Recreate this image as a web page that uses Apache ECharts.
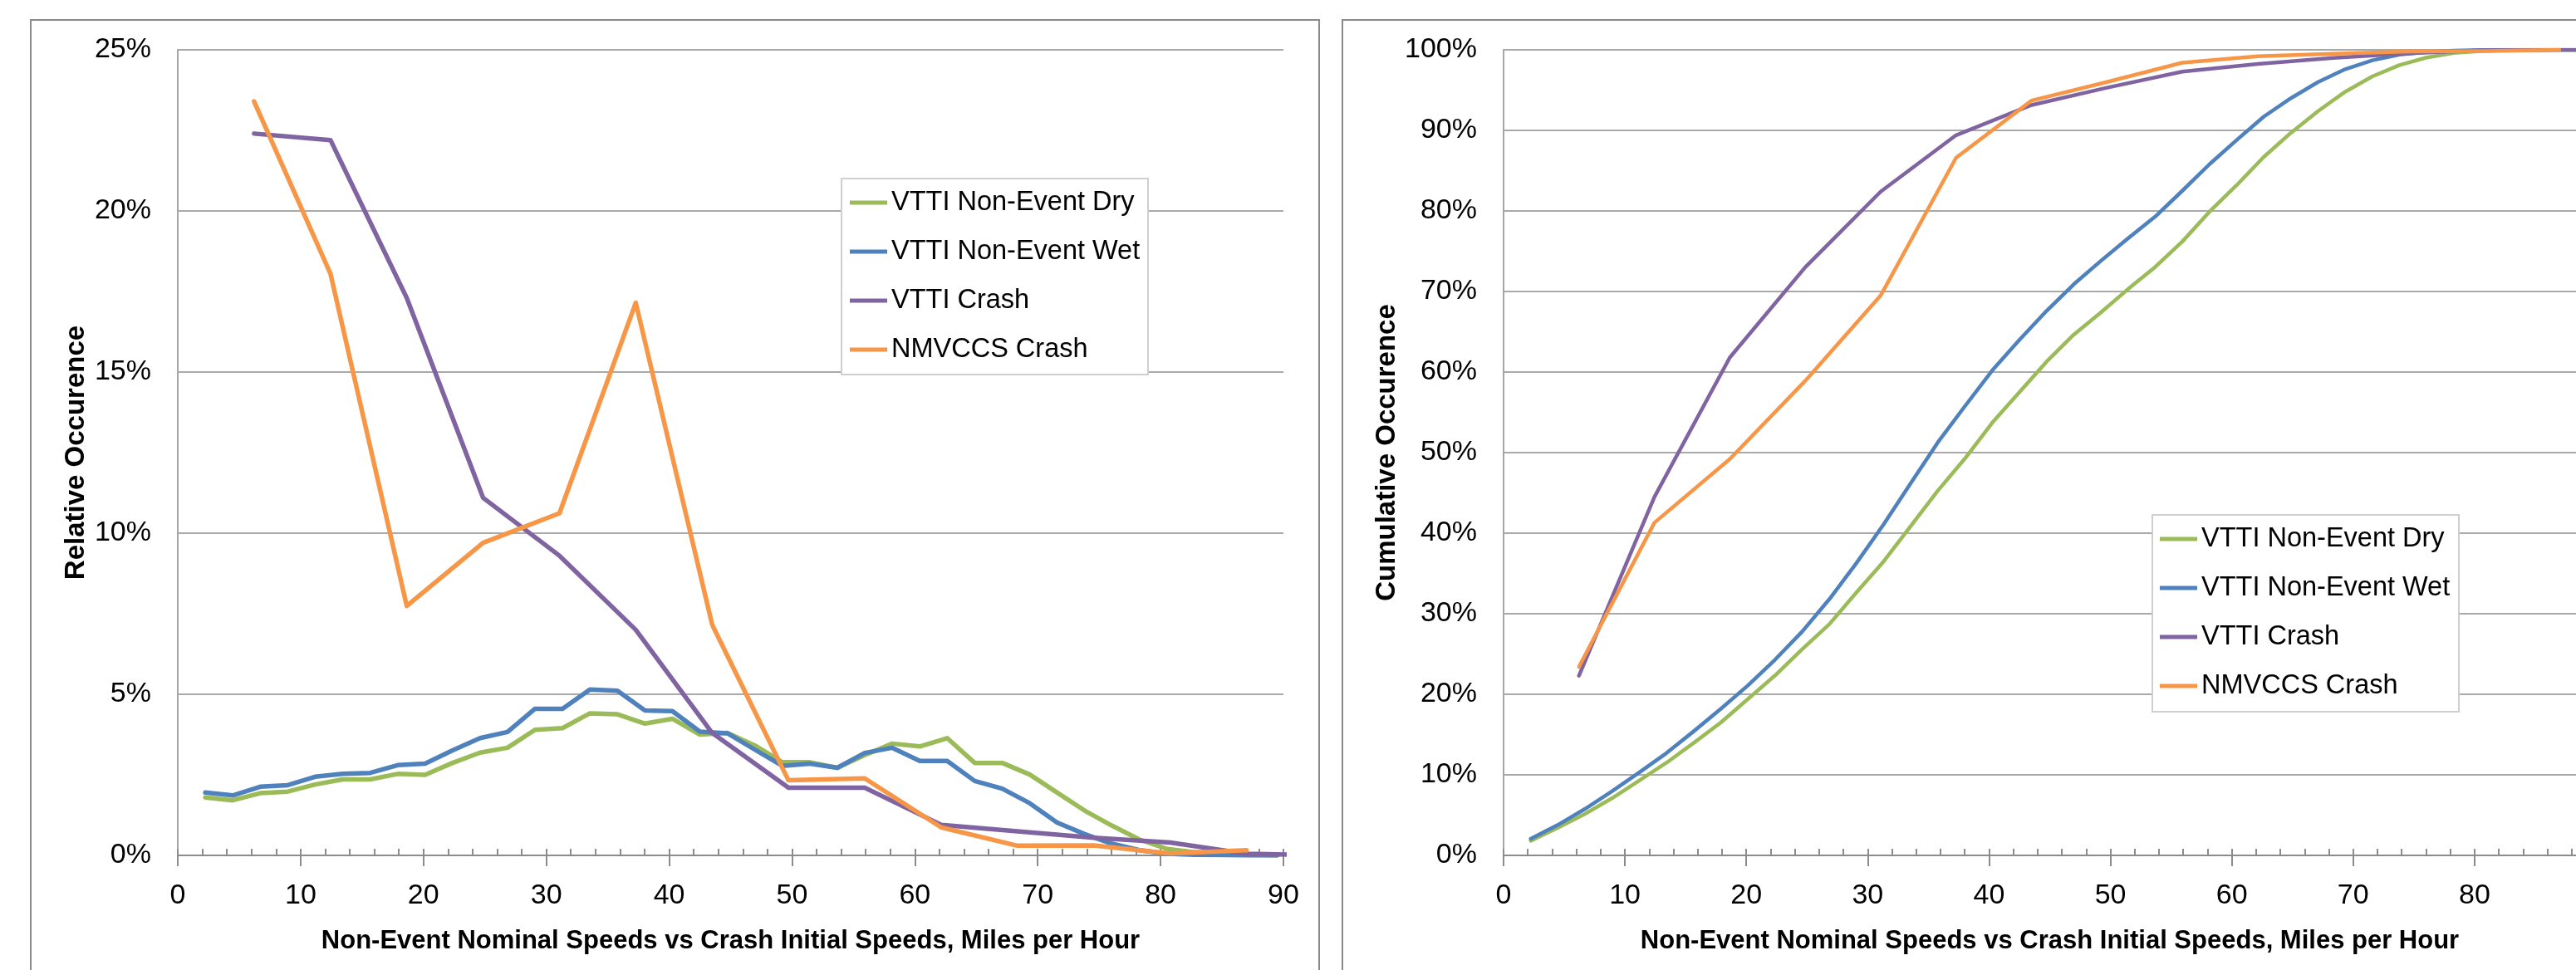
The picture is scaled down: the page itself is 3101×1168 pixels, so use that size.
<!DOCTYPE html>
<html>
<head>
<meta charset="utf-8">
<title>Speed distributions: VTTI and NMVCCS</title>
<script src="https://cdn.jsdelivr.net/npm/echarts@6/dist/echarts.min.js"></script>
<style>
  html, body { margin: 0; padding: 0; background: #ffffff; }
  #chart { width: 3101px; height: 1168px; }
</style>
</head>
<body>
<div id="chart"></div>
<script>
// Speed bins, miles per hour (non-event data in 1 m/s bins, crash data in 10 km/h bins)
const nonEventSpeeds = [2.24, 4.47, 6.71, 8.95, 11.18, 13.42, 15.66, 17.90, 20.13, 22.37,
  24.61, 26.84, 29.08, 31.32, 33.55, 35.79, 38.03, 40.26, 42.50, 44.74,
  46.98, 49.21, 51.45, 53.69, 55.92, 58.16, 60.40, 62.63, 64.87, 67.11,
  69.35, 71.58, 73.82, 76.06, 78.29, 80.53, 82.77, 85.00, 87.24, 89.48];
const crashSpeeds = [6.21, 12.43, 18.64, 24.85, 31.07, 37.28, 43.50, 49.71, 55.92, 62.14,
  68.35, 74.56, 80.78, 86.99, 93.21];

// Relative occurrence, percent
const dryRelative = [1.80, 1.71, 1.93, 1.98, 2.20, 2.36, 2.36, 2.53, 2.50, 2.87,
  3.19, 3.34, 3.90, 3.95, 4.41, 4.38, 4.09, 4.24, 3.75, 3.80,
  3.41, 2.89, 2.89, 2.72, 3.11, 3.47, 3.38, 3.64, 2.87, 2.87,
  2.51, 1.95, 1.39, 0.92, 0.49, 0.20, 0.10, 0.05, 0.03, 0.00];
const wetRelative = [1.95, 1.86, 2.13, 2.18, 2.44, 2.53, 2.56, 2.80, 2.85, 3.26,
  3.64, 3.83, 4.55, 4.55, 5.15, 5.11, 4.50, 4.48, 3.84, 3.79,
  3.28, 2.78, 2.85, 2.72, 3.18, 3.34, 2.93, 2.93, 2.31, 2.07,
  1.62, 1.02, 0.66, 0.36, 0.16, 0.05, 0.02, 0.01, 0.00, 0.00];
const vttiCrashRelative = [22.4, 22.2, 17.3, 11.1, 9.3, 7.0, 3.8, 2.1, 2.1, 0.95,
  0.75, 0.55, 0.40, 0.05, 0.0];
const nmvccsCrashRelative = [23.4, 18.05, 7.74, 9.70, 10.62, 17.15, 7.16, 2.33, 2.39, 0.87,
  0.30, 0.31, 0.06, 0.16];

// Cumulative occurrence, percent
const dryCumulative = [1.82, 3.43, 5.15, 7.11, 9.28, 11.5, 13.95, 16.5, 19.41, 22.34,
  25.6, 28.7, 32.65, 36.5, 40.9, 45.3, 49.3, 53.7, 57.5, 61.3,
  64.65, 67.4, 70.3, 73.05, 76.2, 79.9, 83.2, 86.7, 89.7, 92.4,
  94.8, 96.7, 98.1, 99.05, 99.6, 99.85, 99.95, 100, 100, 100];
const wetCumulative = [2.06, 3.78, 5.77, 7.97, 10.3, 12.7, 15.4, 18.2, 21.1, 24.3,
  27.8, 31.8, 36.3, 41.1, 46.2, 51.3, 55.8, 60.2, 64.0, 67.6,
  70.9, 73.8, 76.6, 79.3, 82.5, 85.8, 88.8, 91.7, 94.0, 96.0,
  97.6, 98.7, 99.4, 99.75, 99.9, 99.97, 100, 100, 100, 100];
const vttiCrashCumulative = [22.3, 44.5, 61.8, 73.0, 82.4, 89.4, 93.15, 95.3, 97.3, 98.25,
  99.0, 99.55, 99.95, 100, 100];
const nmvccsCrashCumulative = [23.4, 41.3, 49.2, 58.9, 69.5, 86.6, 93.7, 96.0, 98.4, 99.2,
  99.5, 99.8, 99.85, 100];

const seriesNames = ['VTTI Non-Event Dry', 'VTTI Non-Event Wet', 'VTTI Crash', 'NMVCCS Crash'];
const seriesColors = ['#9BBB59', '#4F81BD', '#8064A2', '#F79646'];
const xTicks = { min: 0, max: 90, major: 10, minor: 2 };
const yTicksRelative = { min: 0, max: 25, step: 5 };
const yTicksCumulative = { min: 0, max: 100, step: 10 };
const xTitle = 'Non-Event Nominal Speeds vs Crash Initial Speeds, Miles per Hour';
const yTitles = ['Relative Occurence', 'Cumulative Occurence'];

const textFont = "'Liberation Sans', Arial, sans-serif";
const axisGray = '#8c8c8c';

function pairs(xs, ys) {
  return ys.map(function (y, i) { return [xs[i], y]; });
}

// Each panel gets two stacked x axes: the labelled one carries the long outside ticks,
// the second one only draws the short inside ticks every 2 mph.
function xAxesFor(gridIndex) {
  return [
    {
      gridIndex: gridIndex, type: 'value', position: 'bottom',
      min: xTicks.min, max: xTicks.max, interval: xTicks.major,
      axisLine: { show: true, lineStyle: { color: axisGray, width: 2 } },
      axisTick: { show: true, inside: false, length: 13, lineStyle: { color: axisGray, width: 2 } },
      axisLabel: { margin: 32, fontSize: 34, fontFamily: textFont, color: '#000' },
      splitLine: { show: false },
      name: xTitle, nameLocation: 'middle', nameGap: 88,
      nameTextStyle: { fontSize: 31, fontWeight: 'bold', fontFamily: textFont, color: '#000' }
    },
    {
      gridIndex: gridIndex, type: 'value', position: 'bottom',
      min: xTicks.min, max: xTicks.max, interval: xTicks.minor,
      axisLine: { show: false },
      axisTick: { show: true, inside: true, length: 8, lineStyle: { color: axisGray, width: 2 } },
      axisLabel: { show: false },
      splitLine: { show: false }
    }
  ];
}

function yAxisFor(gridIndex, ticks, title, gap) {
  return {
    gridIndex: gridIndex, type: 'value',
    min: ticks.min, max: ticks.max, interval: ticks.step,
    axisLine: { show: true, lineStyle: { color: '#a6a6a6', width: 2 } },
    axisTick: { show: false },
    axisLabel: { formatter: '{value}%', margin: 32, fontSize: 34, fontFamily: textFont, color: '#000' },
    splitLine: { show: true, lineStyle: { color: axisGray, width: 1.5 } },
    name: title, nameLocation: 'middle', nameRotate: 90, nameGap: gap,
    nameTextStyle: { fontSize: 33, fontWeight: 'bold', fontFamily: textFont, color: '#000' }
  };
}

function lineSeries(i, xAxisIndex, yAxisIndex, xs, ys, width) {
  return {
    name: seriesNames[i], type: 'line',
    xAxisIndex: xAxisIndex, yAxisIndex: yAxisIndex,
    data: pairs(xs, ys),
    symbol: 'none', showSymbol: false, clip: true, smooth: false,
    lineStyle: { color: seriesColors[i], width: width, join: 'round', cap: 'round' },
    itemStyle: { color: seriesColors[i] },
    emphasis: { disabled: true }
  };
}

function legendFor(left, top) {
  return {
    orient: 'vertical', left: left, top: top, padding: 0,
    itemWidth: 45, itemHeight: 5, itemGap: 23,
    icon: 'path://M0,0 L45,0 L45,5 L0,5 Z',
    data: seriesNames,
    selectedMode: false,
    textStyle: { fontSize: 32.5, lineHeight: 36, fontFamily: textFont, color: '#000' }
  };
}

const relativeSets = [dryRelative, wetRelative, vttiCrashRelative, nmvccsCrashRelative];
const cumulativeSets = [dryCumulative, wetCumulative, vttiCrashCumulative, nmvccsCrashCumulative];
const xSets = [nonEventSpeeds, nonEventSpeeds, crashSpeeds, crashSpeeds];

const series = [];
relativeSets.forEach(function (ys, i) { series.push(lineSeries(i, 0, 0, xSets[i], ys, 5.5)); });
cumulativeSets.forEach(function (ys, i) { series.push(lineSeries(i, 2, 1, xSets[i], ys, 4.5)); });

const chart = echarts.init(document.getElementById('chart'), null, { renderer: 'canvas' });
chart.setOption({
  animation: false,
  backgroundColor: '#ffffff',
  grid: [
    { left: 214, top: 60, width: 1331, height: 970, containLabel: false, outerBoundsMode: 'none' },
    { left: 1810, top: 60, width: 1315, height: 970, containLabel: false, outerBoundsMode: 'none' }
  ],
  xAxis: xAxesFor(0).concat(xAxesFor(1)),
  yAxis: [
    yAxisFor(0, yTicksRelative, yTitles[0], 106),
    yAxisFor(1, yTicksCumulative, yTitles[1], 124)
  ],
  legend: [legendFor(1023, 226), legendFor(2600, 631)],
  graphic: [
    { type: 'rect', z: -10, silent: true, shape: { x: 37, y: 24, width: 1551, height: 1200 },
      style: { fill: 'none', stroke: '#8a8a8a', lineWidth: 2 } },
    { type: 'rect', z: -10, silent: true, shape: { x: 1616, y: 24, width: 1600, height: 1200 },
      style: { fill: 'none', stroke: '#8a8a8a', lineWidth: 2 } },
    { type: 'rect', z: 3, silent: true, shape: { x: 1013, y: 215, width: 369, height: 236 },
      style: { fill: '#ffffff', stroke: '#cfcfcf', lineWidth: 2 } },
    { type: 'rect', z: 3, silent: true, shape: { x: 2591, y: 620, width: 369, height: 237 },
      style: { fill: '#ffffff', stroke: '#cfcfcf', lineWidth: 2 } }
  ],
  series: series
});
</script>
</body>
</html>
